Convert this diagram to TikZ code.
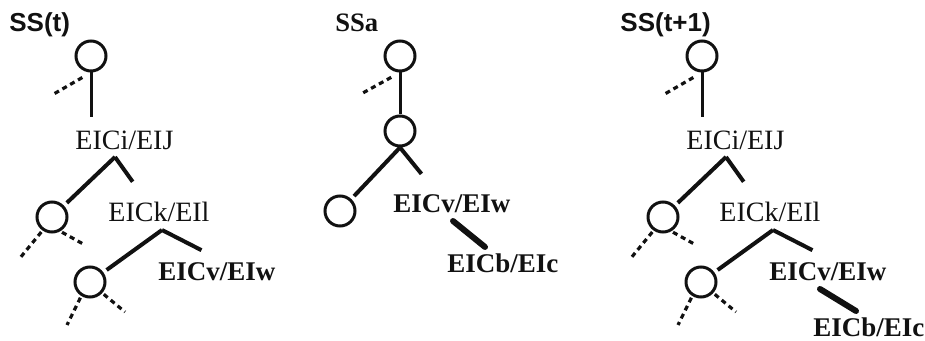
\documentclass[tikz,border=0pt]{standalone}
\usepackage{fontspec}
\setmainfont{Liberation Serif}
\setsansfont{Liberation Sans}
\usepackage{tikz}
\definecolor{Ink}{HTML}{111111}
\newcommand\labsize{\fontsize{13.5}{15}\selectfont}

\begin{document}
\begin{tikzpicture}[x=0.5pt,y=-0.5pt,Ink,
  ring/.style={draw,circle,line width=1.5pt,minimum size=15pt,inner sep=0pt},
  lab/.style={anchor=base west,inner sep=0pt,font=\fontsize{14}{15}\selectfont},
  labb/.style={lab,font=\labsize\bfseries},
  ttl/.style={anchor=base west,inner sep=0pt,font=\fontsize{13}{15}\selectfont\sffamily\bfseries},
  stalk/.style={line width=1.5pt},
  arm/.style={line width=2pt,shorten >=2pt},
  dashln/.style={line width=1.6pt,dash pattern=on 2.5pt off 2pt,shorten <=1pt},
  boldln/.style={line width=3pt,line cap=round}]
  \useasboundingbox (0,0) rectangle (925,341);
  % outer panels SS(t) and SS(t+1)
  \foreach \i/\dx/\head in {1/0/SS(t),3/611/SS(t+1)} {
    \begin{scope}[shift={(\dx,0)}]
      \node[ttl] (ss\i) at (9,32) {\head};
      \node[ring] (top\i) at (91,56) {};
      \coordinate (stem\i) at (91,117);
      \coordinate (tail\i) at (52,95);
      \node[lab] (ci\i) at (75,150) {EICi/EIJ};
      \coordinate (fork\i) at (115,157);
      \coordinate (arm\i) at (135,185);
      \node[ring] (sub\i) at (52,217) {};
      \coordinate (subl\i) at (20,258);
      \coordinate (subr\i) at (85,245);
      \node[lab] (ck\i) at (108,222) {EICk/EIl};
      \coordinate (forkb\i) at (162,230);
      \coordinate (armb\i) at (205,252);
      \node[ring] (low\i) at (90,282) {};
      \coordinate (lowl\i) at (67,325);
      \coordinate (lowr\i) at (125,312);
      \node[labb] (cv\i) at (158,281) {EICv/EIw};
      \draw[stalk] (top\i) -- (stem\i);
      \draw[dashln,shorten <=5pt] (top\i.south) -- (tail\i);
      \draw[arm] (fork\i) -- (sub\i);
      \draw[arm] (fork\i) -- (arm\i);
      \draw[dashln] (sub\i.235) -- (subl\i);
      \draw[dashln] (sub\i.300) -- (subr\i);
      \draw[arm] (forkb\i) -- (low\i);
      \draw[arm] (forkb\i) -- (armb\i);
      \draw[dashln] (low\i.238) -- (lowl\i);
      \draw[dashln] (low\i.318) -- (lowr\i);
    \end{scope}
  }
  % SS(t+1) gains the new pair
  \node[labb] (cb3) at (813,336) {EICb/EIc};
  \draw[boldln] ([shift={(51,8)}]cv3.base west) -- ([shift={(43,-25)}]cb3.base west);
  % middle panel SSa
  \node[ttl,font=\fontsize{13.3}{15}\selectfont\bfseries] (ssa) at (335,32) {SSa};
  \node[ring] (mtop) at (400,56) {};
  \coordinate (mtail) at (361,94);
  \node[ring] (mmid) at (400,131) {};
  \coordinate (marm) at (424,177);
  \node[ring] (mlow) at (340,211) {};
  \node[labb] (mcv) at (393,213) {EICv/EIw};
  \node[labb] (mcb) at (447,273) {EICb/EIc};
  \draw[stalk] (mtop) -- (mmid);
  \draw[dashln,shorten <=5pt] (mtop.south) -- (mtail);
  \draw[arm] (mmid.south) -- (mlow);
  \draw[arm] (mmid.south) -- (marm);
  \draw[boldln] ([shift={(60,8)}]mcv.base west) -- ([shift={(38,-26)}]mcb.base west);
\end{tikzpicture}
\end{document}
